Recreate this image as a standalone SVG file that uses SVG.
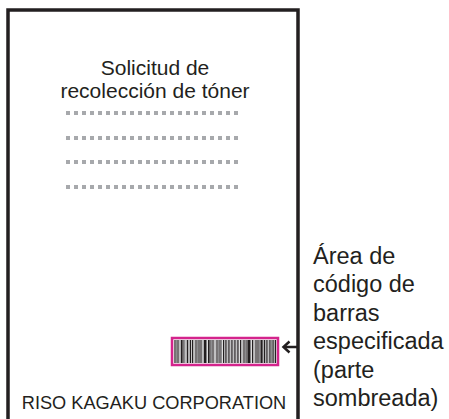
<svg xmlns="http://www.w3.org/2000/svg" width="449" height="419" viewBox="0 0 449 419">
<style>
text{font-family:"Liberation Sans",Arial,Helvetica,sans-serif;fill:#231f20}
.t{font-size:21px;text-anchor:middle}
.r{font-size:23.5px}
.b{font-size:18.2px;text-anchor:middle}
.dk{stroke:#231f20;stroke-width:1.2;fill:none}
.gr{stroke:#8d8d8f;stroke-width:1;fill:none}
</style>
<defs>
<pattern id="dots" x="66" y="0" width="8" height="4" patternUnits="userSpaceOnUse">
<rect x="0" y="0" width="4" height="4" fill="#a7a9ac"/>
</pattern>
<rect id="row" x="66" y="0" width="172" height="4" fill="url(#dots)"/>
</defs>
<rect width="449" height="419" fill="#ffffff"/>
<g id="sheet">
<path d="M8,419 V10 H298 V419" fill="none" stroke="#231f20" stroke-width="3.5"/>
</g>
<g id="title">
<text class="t" x="155" y="75">Solicitud de</text>
<text class="t" x="155" y="98">recolección de tóner</text>
</g>
<g id="placeholder-lines">
<use href="#row" transform="translate(0,111)"/>
<use href="#row" transform="translate(0,136)"/>
<use href="#row" transform="translate(0,160)"/>
<use href="#row" transform="translate(0,185)"/>
</g>
<g id="barcode">
<rect x="172" y="338" width="106" height="27" fill="#f4f4f4" stroke="#d4248c" stroke-width="2.5"/>
<path class="gr" d="M176.5,340V363M180,340V363M184.5,340V363M186,340V363M189,340V363M194,340V363M197.5,340V363M203,340V363M206.5,340V363M211.5,340V363M215,340V363M218.5,340V363M221.5,340V363M225,340V363M228,340V363M231,340V363M234,340V363M237,340V363M242,340V363M245.5,340V363M250.5,340V363M254,340V363M259.5,340V363M263,340V363M266,340V363M269,340V363M271.5,340V363M274,340V363"/>
<path class="dk" d="M175,340V363M178,340V363M181.5,340V363M183,340V363M187.5,340V363M190.5,340V363M192.5,340V363M196,340V363M199,340V363M201,340V363M208.5,340V363M210,340V363M213,340V363M217,340V363M220,340V363M223.5,340V363M226,340V363M229,340V363M232,340V363M235,340V363M238,340V363M240.5,340V363M244,340V363M247,340V363M252.5,340V363M256,340V363M258,340V363M264.5,340V363M267,340V363M270,340V363M273,340V363M275.5,340V363"/>
<path stroke="#231f20" stroke-width="2.2" fill="none" d="M205,340V363M249,340V363M261.5,340V363"/>
</g>
<g id="connectors">
<path d="M297,347 H284" fill="none" stroke="#231f20" stroke-width="2.5"/>
<path d="M289.5,341.5 L283.5,347 L289.5,352.5" fill="none" stroke="#231f20" stroke-width="2.5"/>
</g>
<g id="label">
<text class="r" x="313" y="264">Área de</text>
<text class="r" x="313" y="292">código de</text>
<text class="r" x="313" y="320.5">barras</text>
<text class="r" x="313" y="349">especificada</text>
<text class="r" x="313" y="377.5">(parte</text>
<text class="r" x="313" y="406">sombreada)</text>
</g>
<g id="footer">
<text class="b" x="154" y="409">RISO KAGAKU CORPORATION</text>
</g>
</svg>
